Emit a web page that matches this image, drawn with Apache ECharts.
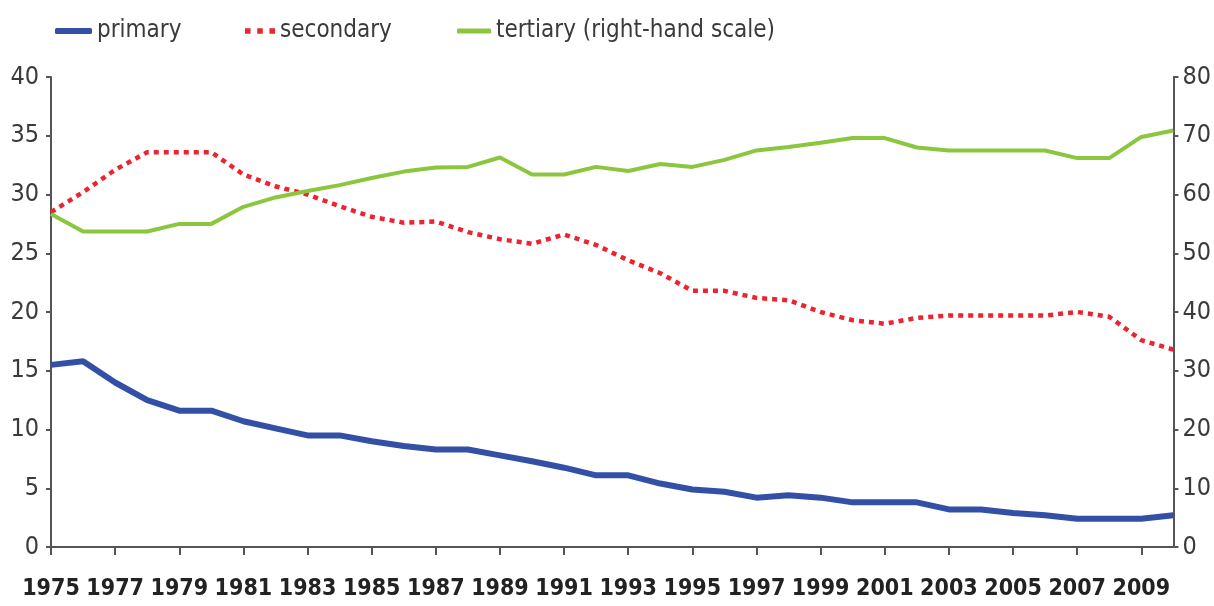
<!DOCTYPE html>
<html>
<head>
<meta charset="utf-8">
<script src="https://cdn.jsdelivr.net/npm/echarts@6/dist/echarts.min.js"></script>
<style>
  html, body { margin: 0; padding: 0; background: #fff; }
  #chart { width: 1214px; height: 606px; }
</style>
</head>
<body>
<div id="chart"></div>
<script>
// years 1975 - 2010
var years = [];
for (var y = 1975; y <= 2010; y++) years.push(String(y));

var primary = [15.5, 15.8, 14.0, 12.5, 11.6, 11.6, 10.7, 10.1, 9.5, 9.5,
  9.0, 8.6, 8.3, 8.3, 7.8, 7.3, 6.75, 6.1, 6.1, 5.4,
  4.9, 4.7, 4.2, 4.4, 4.2, 3.8, 3.8, 3.8, 3.2, 3.2,
  2.9, 2.7, 2.4, 2.4, 2.4, 2.7];

var secondary = [28.5, 30.2, 32.1, 33.6, 33.6, 33.6, 31.7, 30.7, 30.0, 29.0,
  28.1, 27.6, 27.7, 26.8, 26.2, 25.8, 26.6, 25.7, 24.4, 23.3,
  21.8, 21.8, 21.2, 21.0, 20.0, 19.3, 19.0, 19.5, 19.7, 19.7,
  19.7, 19.7, 20.0, 19.6, 17.6, 16.8];

// right-hand scale
var tertiary = [56.7, 53.7, 53.7, 53.7, 55.0, 55.0, 57.9, 59.5, 60.6, 61.6,
  62.8, 63.9, 64.6, 64.7, 66.3, 63.4, 63.4, 64.7, 64.0, 65.2,
  64.7, 65.9, 67.5, 68.1, 68.8, 69.6, 69.6, 68.0, 67.5, 67.5,
  67.5, 67.5, 66.2, 66.2, 69.8, 70.9];

var font = "'Liberation Sans Narrow', 'DejaVu Sans Condensed', sans-serif";
var txt = '#3a3a3a';
var axisCol = '#555';
var blue = '#3450a6', red = '#ec2330', green = '#8cc63f';

var myChart = echarts.init(document.getElementById('chart'));
var legendText = { fontFamily: font, fontSize: 24, color: txt };
var option = {
  animation: false,
  textStyle: { fontFamily: font },
  legend: [
    {
      data: ['primary'], left: 50, top: 14,
      icon: 'roundRect', itemWidth: 37, itemHeight: 6,
      textStyle: legendText
    },
    {
      data: ['secondary'], left: 240, top: 14,
      icon: 'path://M0,0h5v5h-5z M11,0h5v5h-5z M22,0h5v5h-5z',
      itemWidth: 30, itemHeight: 6,
      textStyle: legendText
    },
    {
      data: ['tertiary (right-hand scale)'], left: 452, top: 14,
      icon: 'roundRect', itemWidth: 34, itemHeight: 5,
      textStyle: legendText
    }
  ],
  grid: { left: 51, right: 39, top: 77, bottom: 59 },
  xAxis: {
    type: 'category',
    data: years,
    boundaryGap: false,
    axisLine: { lineStyle: { color: axisCol, width: 2 } },
    axisTick: { interval: 1, length: 8, lineStyle: { color: axisCol, width: 2 } },
    axisLabel: {
      interval: 1, margin: 31, fontSize: 23, fontWeight: 'bold',
      color: '#222', fontFamily: font
    },
    splitLine: { show: false }
  },
  yAxis: [
    {
      type: 'value', min: 0, max: 40, interval: 5,
      axisLine: { show: true, lineStyle: { color: axisCol, width: 2 } },
      axisTick: { show: true, length: 5, lineStyle: { color: axisCol, width: 2 } },
      axisLabel: { fontSize: 25, color: txt, margin: 12, fontFamily: font },
      splitLine: { show: false }
    },
    {
      type: 'value', min: 0, max: 80, interval: 10,
      axisLine: { show: true, lineStyle: { color: axisCol, width: 2 } },
      axisTick: { show: true, length: 5, lineStyle: { color: axisCol, width: 2 } },
      axisLabel: { fontSize: 25, color: txt, margin: 9, fontFamily: font },
      splitLine: { show: false }
    }
  ],
  series: [
    {
      name: 'primary', type: 'line', data: primary,
      showSymbol: false, symbol: 'none',
      itemStyle: { color: blue },
      lineStyle: { color: blue, width: 6 }
    },
    {
      name: 'secondary', type: 'line', data: secondary,
      showSymbol: false, symbol: 'none',
      itemStyle: { color: red },
      lineStyle: { color: red, width: 4.5, type: [5, 5] }
    },
    {
      name: 'tertiary (right-hand scale)', type: 'line', data: tertiary,
      yAxisIndex: 1,
      showSymbol: false, symbol: 'none',
      itemStyle: { color: green },
      lineStyle: { color: green, width: 4 }
    }
  ]
};
myChart.setOption(option);
window.addEventListener('resize', function () {
  myChart.resize();
});
</script>
</body>
</html>
